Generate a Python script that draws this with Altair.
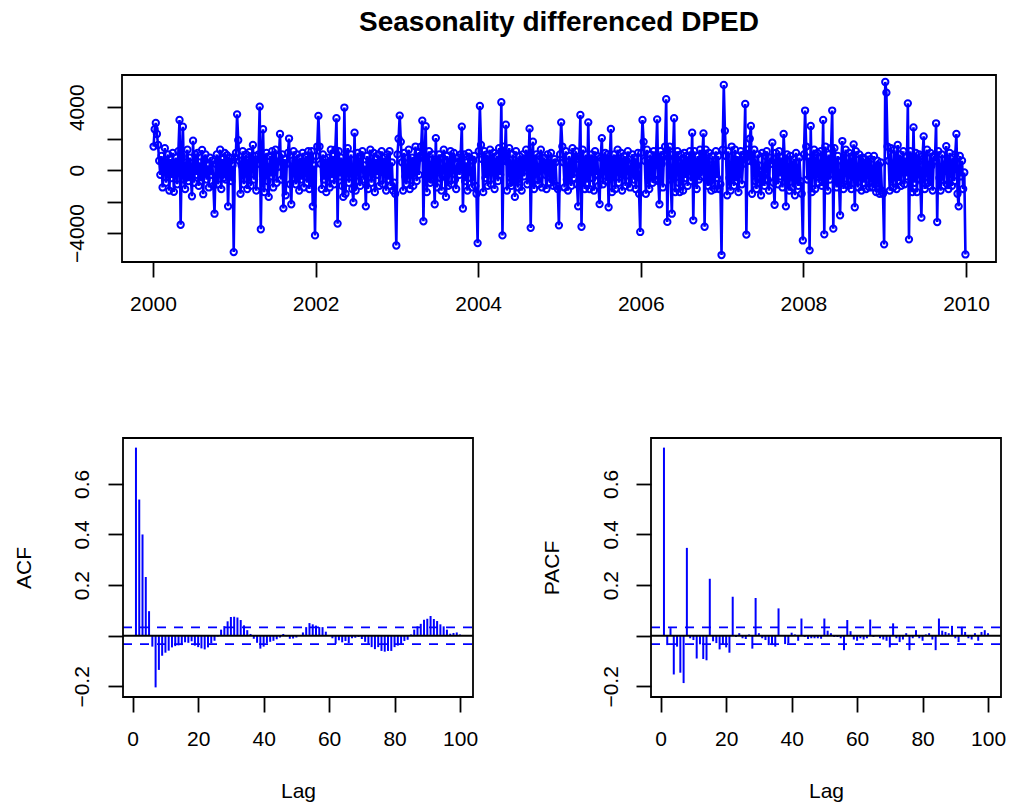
import altair as alt
import pandas as pd

TITLE = "Seasonality differenced DPED"

# ---- top panel: series values read per year (72 readings per year, ~5 days apart) ----
YEARS = [2000, 2001, 2002, 2003, 2004, 2005, 2006, 2007, 2008, 2009]
y2000 = [1500, 2600, 3000, 2300, 1600, 600, -300, 900, -1100, 400, 1400, -800, 200, 1000, -1300, 700, -500, 1100,
         -1380, 300, 800, -900, 1200, 3190, -3470, 900, 2760, -600, -1200, 500, 1300, -700, 800, -400, -1660, 1870,
         -800, 1000, -300, 1100, -1000, 500, -700, 1280, -1530, 600, 1000, -600, 300, -1100, 800, -300, 600, -1000,
         -2770, 400, 1000, -900, 200, 1300, -1200, 700, -500, 1100, -600, 950, -2300, 500, 800, -700, 300, -5210]
y2001 = [800, 1100, 3550, 1900, 600, -1500, 300, 1200, -900, 500, 1000, -1200, -300, 1150, -1000, 700, 1600, -600,
         900, -1300, 400, 1000, 4040, -3760, 800, 2600, -1400, 300, 1100, -700, -1700, 900, -400, 1200, -1100, 600,
         1300, -800, 200, 900, 2300, -600, 1000, -2430, 700, -1600, 400, 1100, 2010, -900, -2170, 600, 1200, -500,
         -900, 1000, 300, -1300, 800, -600, 1100, -1100, 400, 900, -800, 1200, -1200, 600, 1200, -2300, 300, -4150]
y2002 = [900, 1500, 3450, 1500, 400, -1200, 1000, -600, 700, -1400, 300, 800, -1100, 1300, -500, 900, -900, 1300,
         3300, -3400, 1200, -400, 800, -1000, -1700, 3980, -1500, 600, 1400, -800, 200, 1000, -1200, -2040, 2380, -1300,
         500, 1100, -700, -1000, 900, 1200, -600, 300, -2300, 900, -1200, 500, 1300, -800, 200, 1100, -1400, 700,
         -300, 1000, -1000, 600, 1200, -900, 400, 800, -1300, 1000, -600, 1200, -1000, 500, -1300, -800, -1500, -4790]
y2003 = [1000, 2000, 3470, 1800, 500, -1300, 1100, -400, -900, 800, 1300, -1200, 300, 800, -1000, 600, 1500, -700,
         1100, -300, 900, 1500, 3150, -3250, 700, 2790, -1400, 400, 1200, -800, -600, 1000, 300, -2170, 2040, -1100,
         600, 1000, -500, -1300, 800, 1300, -400, -1700, 900, -1000, 300, 1200, -900, 700, 1100, -600, -1200, 400,
         800, -300, 1000, 2770, -2440, 1000, -700, 500, -1300, 1100, 800, -500, -1100, 600, 900, -1000, -1500, -4640]
y2004 = [1200, 4080, 1600, 700, -1400, 1200, -500, 1000, -1000, 400, 1300, -900, 600, 1100, -1200, 300, 900, -700,
         1400, -300, 4320, -4150, 1500, 600, 2890, -1300, 500, 1400, -800, -1000, 1000, 300, -1700, 1200, -600, -1100,
         900, 500, -1300, 1000, -400, 700, 1300, -900, 200, 2640, -3670, 800, 1810, -1200, 300, 1000, -600, -900,
         900, 1300, -1100, 500, 800, -300, -1200, 1000, 400, -800, 1100, -600, -1000, 700, 500, -1000, -1200, -3510]
y2005 = [1000, 3040, 1500, 500, -1100, 1200, -600, -1300, 900, 300, -1000, 1400, -500, 800, 1200, -900, -2300, 700,
         3510, -3600, 1300, 400, -1200, 1000, -800, 3040, -1200, 600, 1000, -500, -1300, 1200, -300, 900, -1000, -2160,
         800, 2040, -900, 400, 1100, -700, 1000, -2360, 600, 2620, -1400, 300, 1000, -1200, 700, 1300, -800, 200,
         1100, -1300, 500, 900, -1000, 600, 1200, -700, -1100, 400, 1000, -600, 800, -1200, 300, 1100, -1500, -3930]
y2006 = [1100, 3190, 1800, 600, -1500, 1300, -400, -1200, 1000, 500, -800, 1200, -600, 900, 3230, -700, -2170, 1200,
         400, -1100, 1000, 1500, 4510, -3290, 800, 1500, -600, -2770, 1000, 3300, -1400, 700, 1200, -800, -1400, 1000,
         300, -1300, 1100, -500, 900, -1000, 600, 1200, -700, 2380, -3190, 1200, 400, -1200, 900, -600, 1300, -400,
         1000, 2340, -3600, 1300, 500, -1000, 1100, -700, -1300, 900, 200, -1200, 1200, -500, 900, -1200, -900, -5400]
y2007 = [1300, 5420, 2500, 900, -1600, 1200, -500, -1300, 1500, 300, -1000, 1300, -700, 900, -1400, 600, 1200, -900,
         400, 1000, 4210, -4100, 1300, 600, 2000, 2810, -1500, 500, 1300, -700, -1200, 1000, 300, -800, -1600, 1100,
         -400, -1000, 900, 1200, -600, -1300, 800, 400, 1750, -800, -2200, 1100, 500, -900, 1200, -400, 800, -1100,
         2300, 600, -2300, 1000, -500, -1300, 900, 300, -1100, 700, -1600, 1100, -600, -1000, 800, -700, -1500, -4470]
y2008 = [1000, 3790, 1500, -600, 800, -5100, 2810, -1400, 600, 1300, -1200, 500, 1100, -800, -300, 1200, -1000, 3190,
         -4080, 1500, 400, -1300, 1000, -600, 1400, 3790, -3720, 1400, 300, -1100, 900, -700, -2870, 600, 1850, -1200,
         500, 1300, -900, -1000, 1100, 300, -1200, 900, 1640, -2360, 1200, -500, -1100, 1000, 200, -1300, 800, -800,
         700, -1200, 400, 900, -1100, 700, -300, -1100, 900, -900, -1400, 600, 300, -1500, 500, -1300, -1500, -4720]
y2009 = [5610, 4930, 1500, 600, -1300, 1400, -500, -1100, 1300, 400, -1200, 1600, -700, 1000, -1000, 500, 1200, -900,
         800, -400, 4250, -4400, 1200, 600, -1400, 2720, -800, 1100, -1400, 500, 1000, -600, -3020, 900, 2150, -1200,
         400, 1300, -800, -1000, 1100, 300, -1300, 900, 600, 2980, -3300, 1200, -500, -1300, 1000, 200, -1000, 700,
         1530, -900, -1200, 1100, 400, -1000, 800, -700, 1000, 2300, -1500, -2300, 900, -400, 600, -1200, -150, -5360]
SERIES = [y2000, y2001, y2002, y2003, y2004, y2005, y2006, y2007, y2008, y2009]

# ---- ACF / PACF ----
LAGS = list(range(1, 101))
ACF = [0.743, 0.538, 0.400, 0.232, 0.097, -0.043, -0.204, -0.135, -0.079, -0.067,
       -0.059, -0.046, -0.041, -0.038, -0.037, -0.026, -0.028, -0.022, -0.039, -0.045,
       -0.050, -0.054, -0.046, -0.030, -0.020, -0.003, 0.024, 0.038, 0.057, 0.074,
       0.075, 0.072, 0.062, 0.041, 0.022, 0.007, -0.012, -0.028, -0.051, -0.043,
       -0.030, -0.024, -0.020, -0.014, -0.007, 0.007, -0.002, -0.012, -0.011, -0.007,
       0.003, 0.013, 0.034, 0.050, 0.045, 0.040, 0.034, 0.034, 0.016, 0.000,
       -0.010, -0.032, -0.018, -0.026, -0.021, -0.029, -0.010, -0.008, -0.005, -0.013,
       -0.024, -0.032, -0.045, -0.053, -0.045, -0.060, -0.063, -0.060, -0.060, -0.045,
       -0.039, -0.032, -0.021, -0.016, 0.005, 0.024, 0.037, 0.047, 0.063, 0.067,
       0.078, 0.066, 0.058, 0.045, 0.037, 0.024, 0.008, 0.011, 0.013, 0.005]
PACF = [0.743, -0.037, 0.030, -0.153, -0.043, -0.146, -0.187, 0.347, -0.010, -0.017,
        -0.090, -0.034, -0.092, -0.097, 0.225, -0.022, -0.029, -0.054, -0.033, -0.046,
        -0.067, 0.154, -0.005, 0.010, -0.010, -0.013, 0.005, -0.051, 0.149, 0.010,
        -0.010, -0.017, -0.037, -0.037, -0.043, 0.108, 0.002, -0.033, -0.030, 0.012,
        0.005, -0.020, 0.068, -0.005, -0.013, -0.010, -0.010, -0.010, -0.012, 0.068,
        0.020, 0.010, -0.005, -0.005, -0.010, -0.057, 0.062, 0.018, -0.015, -0.020,
        -0.010, -0.015, -0.010, 0.064, -0.005, 0.002, -0.010, -0.015, -0.020, -0.046,
        0.049, -0.010, -0.025, -0.015, 0.010, -0.057, -0.010, 0.022, -0.010, -0.020,
        0.005, 0.010, -0.015, -0.057, 0.068, 0.020, 0.015, 0.010, 0.039, -0.010,
        -0.025, 0.035, 0.015, -0.010, -0.015, 0.010, -0.020, 0.015, 0.022, 0.010]
CONF_LIMIT = 0.033

X_TICKS_TOP = [2000, 2002, 2004, 2006, 2008, 2010]
Y_TICKS_TOP = [-4000, -2000, 0, 2000, 4000]
X_TICKS_LAG = [0, 20, 40, 60, 80, 100]
Y_TICKS_CF = [-0.2, 0.0, 0.2, 0.4, 0.6]

# ---- layout (pixels) ----
W, H = 1011, 805
TOP_X_DOMAIN = [1999.619, 2010.369]
TOP_X_RANGE = [122, 996]
TOP_Y_DOMAIN = [-5841, 6051]
TOP_Y_RANGE = [262, 75]
LAG_DOMAIN = [-2.96, 103.96]
ACF_X_RANGE = [123, 473]
PACF_X_RANGE = [651, 1001]
CF_Y_DOMAIN = [-0.242, 0.781]
CF_Y_RANGE = [697, 438]

BLUE = "#0000FF"
FONT = "Liberation Sans"
FS = 21
LW = 1.8

rows = []
for yr, vals in zip(YEARS, SERIES):
    n = len(vals)
    for k, v in enumerate(vals):
        rows.append({"t": yr + (k + 0.5) / n, "v": v})
df_top = pd.DataFrame(rows)

df_acf = pd.DataFrame({"lag": LAGS, "r": ACF, "base": [0] * len(LAGS)})
df_pacf = pd.DataFrame({"lag": LAGS, "r": PACF, "base": [0] * len(LAGS)})


def sc(domain, rng):
    return alt.Scale(domain=domain, range=rng, nice=False, zero=False)


common_axis = dict(tickSize=15, tickWidth=LW, tickColor="black", domain=False, grid=False,
                   labelFont=FONT, labelFontSize=FS, labelColor="black", labelFlush=False,
                   labelOverlap=False, titleFont=FONT, titleFontSize=FS, titleFontWeight="normal",
                   titleColor="black")


def frame(xdom, ydom, xr, yr):
    d = pd.DataFrame({"x0": [xdom[0]], "x1": [xdom[1]], "y0": [ydom[0]], "y1": [ydom[1]]})
    return alt.Chart(d).mark_rect(filled=False, color="black", strokeWidth=LW).encode(
        x=alt.X("x0:Q", scale=sc(xdom, xr), axis=None), x2="x1:Q",
        y=alt.Y("y0:Q", scale=sc(ydom, yr), axis=None), y2="y1:Q")


# ---- top panel ----
top_x_axis = alt.Axis(orient="bottom", offset=TOP_Y_RANGE[0] - H, values=X_TICKS_TOP, format="d",
                      title="", labelPadding=16, **common_axis)
top_y_axis = alt.Axis(orient="left", offset=-TOP_X_RANGE[0], values=Y_TICKS_TOP, format="d", title="",
                      labelAngle=270, labelAlign="center", labelBaseline="alphabetic", labelPadding=24,
                      labelExpr="(datum.value == 2000 || datum.value == -2000) ? '' : replace(datum.label, '-', '\u2212')",
                      **common_axis)

top_line = alt.Chart(df_top).mark_line(color=BLUE, strokeWidth=2.6).encode(
    x=alt.X("t:Q", scale=sc(TOP_X_DOMAIN, TOP_X_RANGE), axis=top_x_axis),
    y=alt.Y("v:Q", scale=sc(TOP_Y_DOMAIN, TOP_Y_RANGE), axis=top_y_axis))
top_pts = alt.Chart(df_top).mark_point(shape="circle", filled=False, color=BLUE, size=40,
                                       strokeWidth=2, opacity=1).encode(
    x=alt.X("t:Q", scale=sc(TOP_X_DOMAIN, TOP_X_RANGE), axis=None),
    y=alt.Y("v:Q", scale=sc(TOP_Y_DOMAIN, TOP_Y_RANGE), axis=None))
top_frame = frame(TOP_X_DOMAIN, TOP_Y_DOMAIN, TOP_X_RANGE, TOP_Y_RANGE)


# ---- correlogram panels ----
def corr_panel(df, xr, ytitle, ypad):
    xs = sc(LAG_DOMAIN, xr)
    ys = sc(CF_Y_DOMAIN, CF_Y_RANGE)
    x_axis = alt.Axis(orient="bottom", offset=CF_Y_RANGE[0] - H, values=X_TICKS_LAG, format="d",
                      title="Lag", labelPadding=16, titleX=(xr[0] + xr[1]) / 2, titleY=100,
                      titleAlign="center", titleBaseline="alphabetic", **common_axis)
    y_axis = alt.Axis(orient="left", offset=-xr[0], values=Y_TICKS_CF, title=ytitle,
                      labelAngle=270, labelAlign="center", labelBaseline="alphabetic", labelPadding=ypad,
                      labelExpr="datum.value == 0 ? '' : replace(format(datum.value, '.1f'), '-', '\u2212')",
                      titleAngle=270, titleX=-93, titleY=(CF_Y_RANGE[0] + CF_Y_RANGE[1]) / 2,
                      titleAlign="center", titleBaseline="alphabetic", **common_axis)
    bars = alt.Chart(df).mark_rule(color=BLUE, strokeWidth=2).encode(
        x=alt.X("lag:Q", scale=xs, axis=x_axis),
        y=alt.Y("r:Q", scale=ys, axis=y_axis), y2="base:Q")
    lines = pd.DataFrame({"x0": [LAG_DOMAIN[0]] * 2, "x1": [LAG_DOMAIN[1]] * 2,
                          "c": [CONF_LIMIT, -CONF_LIMIT]})
    conf = alt.Chart(lines).mark_rule(color=BLUE, strokeWidth=LW, strokeDash=[9, 8]).encode(
        x=alt.X("x0:Q", scale=xs, axis=None), x2="x1:Q",
        y=alt.Y("c:Q", scale=ys, axis=None))
    zl = pd.DataFrame({"x0": [LAG_DOMAIN[0]], "x1": [LAG_DOMAIN[1]], "c": [0]})
    zero = alt.Chart(zl).mark_rule(color="black", strokeWidth=LW).encode(
        x=alt.X("x0:Q", scale=xs, axis=None), x2="x1:Q",
        y=alt.Y("c:Q", scale=ys, axis=None))
    fr = frame(LAG_DOMAIN, CF_Y_DOMAIN, xr, CF_Y_RANGE)
    return [bars, conf, zero, fr]


title = alt.Chart(pd.DataFrame({"label": [TITLE]})).mark_text(
    font=FONT, fontSize=28, fontWeight="bold", align="center", baseline="alphabetic", color="black"
).encode(text="label:N", x=alt.value((TOP_X_RANGE[0] + TOP_X_RANGE[1]) / 2), y=alt.value(31))

layers = [top_line, top_pts, top_frame] + corr_panel(df_acf, ACF_X_RANGE, "ACF", 20) + \
         corr_panel(df_pacf, PACF_X_RANGE, "PACF", 19) + [title]

chart = alt.layer(*layers).resolve_scale(x="independent", y="independent").resolve_axis(
    x="independent", y="independent"
).properties(
    width=W, height=H, autosize=alt.AutoSizeParams(type="none"), padding=0, background="white"
).configure_view(strokeWidth=0)

chart.save("out.html", embed_options={"renderer": "svg", "actions": False})
